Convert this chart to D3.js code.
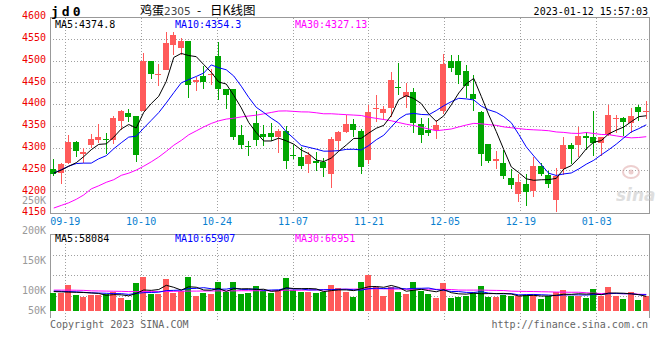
<!DOCTYPE html>
<html><head><meta charset="utf-8">
<script src="https://cdn.jsdelivr.net/npm/d3@7"></script>
<style>
body{margin:0;background:#fff;}
svg{display:block;}
text{font-family:"DejaVu Sans Mono",monospace;font-size:10px;}
</style></head><body>
<svg id="c" width="660" height="360"></svg>
<script>
// ---------------- data ----------------
const dates = ["09-15","09-16","09-19","09-20","09-21","09-22","09-23","09-26","09-27","09-28","09-29","09-30",
"10-10","10-11","10-12","10-13","10-14","10-17","10-18","10-19","10-20","10-21","10-24","10-25","10-26","10-27","10-28","10-31",
"11-01","11-02","11-03","11-04","11-07","11-08","11-09","11-10","11-11","11-14","11-15","11-16","11-17","11-18","11-21","11-22","11-23","11-24","11-25","11-28","11-29","11-30",
"12-01","12-02","12-05","12-06","12-07","12-08","12-09","12-12","12-13","12-14","12-15","12-16","12-19","12-20","12-21","12-22","12-23","12-26","12-27","12-28","12-29","12-30",
"01-03","01-04","01-05","01-06","01-09","01-10","01-11","01-12"];
const open  = [4252,4244,4267,4314,4288,4308,4320,4322,4320,4363,4381,4374,4386,4500,4467,4480,4537,4529,4546,4451,4466,4469,4512,4435,4437,4330,4305,4358,4333,4335,
4327,4340,4285,4280,4265,4270,4269,4240,4317,4337,4356,4340,4274,4389,4382,4393,4441,4418,4429,4356,4343,4343,4386,4500,4500,4477,4425,4383,4310,4270,
4266,4232,4196,4219,4202,4259,4238,4181,4253,4307,4308,4328,4327,4313,4330,4367,4370,4359,4394,4385];
const high  = [4276,4267,4330,4316,4301,4333,4356,4335,4374,4387,4389,4375,4519,4500,4494,4567,4567,4553,4547,4464,4489,4483,4544,4436,4437,4353,4316,4385,4354,4357,
4345,4350,4307,4303,4292,4292,4278,4325,4340,4376,4367,4344,4399,4422,4397,4474,4496,4450,4438,4370,4370,4366,4516,4515,4513,4492,4467,4386,4311,4294,
4297,4253,4240,4240,4280,4267,4247,4255,4325,4312,4349,4337,4386,4326,4399,4376,4372,4392,4399,4408];
const low   = [4237,4219,4265,4279,4266,4301,4313,4288,4309,4343,4360,4269,4385,4460,4443,4480,4513,4513,4415,4431,4435,4446,4410,4389,4320,4298,4282,4306,4306,4316,
4290,4253,4275,4253,4243,4247,4234,4210,4294,4336,4327,4240,4265,4360,4364,4372,4423,4392,4336,4313,4328,4322,4379,4474,4448,4415,4385,4259,4267,4253,
4230,4207,4177,4167,4188,4237,4209,4155,4238,4263,4280,4295,4282,4282,4328,4334,4328,4336,4363,4368];
const close = [4242,4264,4314,4293,4292,4321,4325,4320,4370,4386,4372,4285,4500,4470,4470,4542,4560,4546,4446,4457,4451,4471,4435,4423,4327,4308,4302,4320,4327,4327,
4340,4272,4282,4259,4285,4267,4255,4322,4337,4356,4343,4256,4383,4392,4389,4456,4438,4429,4359,4331,4336,4353,4493,4485,4467,4442,4414,4288,4272,4276,
4236,4215,4223,4200,4259,4242,4217,4237,4307,4298,4328,4324,4313,4325,4376,4370,4360,4374,4383,4386];
const volume = [73500,73500,104800,63900,55800,63900,63900,66700,77500,51700,
43500,112900,137400,69400,69400,129200,72100,80300,137400,59900,
72100,69400,117000,74800,117000,68000,72100,100700,80300,73500,
80300,133300,84400,77500,77500,72100,77500,104800,92500,77500,
57100,117000,145600,96600,61200,95200,76200,68000,117000,80300,
68000,53100,112900,53100,57100,61200,73500,100700,57100,57100,
63900,61200,61200,63900,63900,49000,61200,77500,84400,61200,
61200,53100,88400,61200,96600,61200,49000,76200,44900,61200];
const ma5Lead  = [4243,4250,4259,4267];
const ma10Lead = [4243,4251,4259,4265,4266,4266,4276,4283,4299];
const ma30Lead = [4163,4169,4175,4183,4193,4207,4214,4222,4228,4238,4243,4250,4259,4269,4280,4293,4307,4318,4331,4340,4349,4357,4363,4367,4369,4372,4374,4376,4379];
const vma5Lead  = [78000,77000,76000,75000];
const vma10Lead = [80000,79000,78000,77000,75000,73000,72000,71000,70000];
const vma30Lead = [84000,84000,84000,83500,83000,81000,80500,80000,79500,79000,78000,78000,78000,78000,78000,78500,79000,79500,80000,80000,80500,80500,81000,81000,81000,81500,81500,81500,81500];
const maLegend = ["4374.8","4354.3","4327.13"];
const volMaLegend = ["58084","65907","66951"];
const xTicks = ["09-19","10-10","10-24","11-07","11-21","12-05","12-19","01-03"];
const priceTicks = [4600,4550,4500,4450,4400,4350,4300,4250,4200,4150];
const volTicks = [250000,200000,150000,100000,50000];
const volTickLabels = ["250K","200K","150K","100K","50K"];

// ---------------- helpers ----------------
function movAvg(arr, n, lead){
  return arr.map((_, i) => i < n - 1 ? lead[i] : d3.mean(arr.slice(i - n + 1, i + 1)));
}
const ma5 = movAvg(close, 5, ma5Lead), ma10 = movAvg(close, 10, ma10Lead), ma30 = movAvg(close, 30, ma30Lead);
const vma5 = movAvg(volume, 5, vma5Lead), vma10 = movAvg(volume, 10, vma10Lead), vma30 = movAvg(volume, 30, vma30Lead);

const RED = "#ff5a5a", GREEN = "#00a600", GRID = "#a0a0a0", FRAME = "#999";
const L = 50, R = 650;
const svg = d3.select("#c");

const xb = d3.scaleBand().domain(dates).range([L, R]).padding(0);
const xp = d3.scalePoint().domain(dates).range([L, R]).padding(0);
const y = d3.scaleLinear().domain([4150, 4600]).range([213.7, 17.5]);
const vTop = 234.5, vBot = 318;
const vy = d3.scaleLinear().domain([0, 100000]).range([310.7, 286.2]);
const vLabelY = d3.scaleLinear().domain([100000, 250000]).range([290.7, 200.7]);
const vGrid = d3.scaleLinear().domain([0, 4]).range([vTop, 317]);

const cx = d => Math.floor(xb(d) + xb.bandwidth() / 2 - 3);
const px = v => Math.floor(v) + 0.5;

// ---------------- grid & frame ----------------
const g = svg.append("g").attr("shape-rendering", "crispEdges");
// main horizontal grid
g.selectAll(".hg").data(priceTicks.slice(1, -1)).enter().append("line")
  .attr("x1", L).attr("x2", R).attr("y1", d => px(y(d))).attr("y2", d => px(y(d)))
  .attr("stroke", GRID).attr("stroke-dasharray", "1,2");
// main vertical grid
g.selectAll(".vg").data(xTicks).enter().append("line")
  .attr("x1", d => px(xp(d))).attr("x2", d => px(xp(d)))
  .attr("y1", y(4600)).attr("y2", y(4150))
  .attr("stroke", GRID).attr("stroke-dasharray", "1,2");
// main frame
g.append("line").attr("x1", L).attr("x2", R).attr("y1", px(y(4600))).attr("y2", px(y(4600))).attr("stroke", FRAME);
g.append("line").attr("x1", L).attr("x2", R).attr("y1", px(y(4150))).attr("y2", px(y(4150))).attr("stroke", FRAME).attr("stroke-width", 1.5);
g.append("line").attr("x1", L + 0.5).attr("x2", L + 0.5).attr("y1", y(4600)).attr("y2", y(4150)).attr("stroke", FRAME);
g.append("line").attr("x1", R - 0.5).attr("x2", R - 0.5).attr("y1", y(4600)).attr("y2", y(4150)).attr("stroke", FRAME);

// volume grid
g.selectAll(".vhg").data([1, 2, 3]).enter().append("line")
  .attr("x1", L).attr("x2", R).attr("y1", d => px(vGrid(d))).attr("y2", d => px(vGrid(d)))
  .attr("stroke", GRID).attr("stroke-dasharray", "1,2");
g.selectAll(".vvg").data(xTicks).enter().append("line")
  .attr("x1", d => px(xp(d))).attr("x2", d => px(xp(d)))
  .attr("y1", vTop).attr("y2", vBot + 2)
  .attr("stroke", GRID).attr("stroke-dasharray", "1,2");
g.append("line").attr("x1", L).attr("x2", R).attr("y1", vTop).attr("y2", vTop).attr("stroke", FRAME);
g.append("line").attr("x1", L + 0.5).attr("x2", L + 0.5).attr("y1", vTop).attr("y2", vBot).attr("stroke", FRAME);
g.append("line").attr("x1", R - 0.5).attr("x2", R - 0.5).attr("y1", vTop).attr("y2", vBot).attr("stroke", FRAME);

// ---------------- watermark ----------------
const wm = svg.append("g").attr("opacity", 0.55);
wm.append("ellipse").attr("cx", 631).attr("cy", 172).attr("rx", 8).attr("ry", 6)
  .attr("fill", "none").attr("stroke", "#e0a8a8").attr("stroke-width", 2);
wm.append("circle").attr("cx", 631).attr("cy", 172).attr("r", 2.5).attr("fill", "#e0a8a8");
wm.append("text").attr("x", 616).attr("y", 201).text("sina")
  .style("font-family", "'DejaVu Sans',sans-serif").style("font-size", "17px")
  .style("font-style", "italic").style("font-weight", "bold").attr("fill", "#c4c4c4");

// ---------------- candles ----------------
const idx = d3.range(dates.length);
const isUp = i => close[i] >= open[i];
const cg = svg.append("g").attr("shape-rendering", "crispEdges");
cg.selectAll(".wick").data(idx).enter().append("line")
  .attr("x1", i => cx(dates[i]) + 3.5).attr("x2", i => cx(dates[i]) + 3.5)
  .attr("y1", i => Math.round(y(high[i]))).attr("y2", i => Math.round(y(low[i])))
  .attr("stroke", i => isUp(i) ? RED : GREEN);
cg.selectAll(".body").data(idx).enter().append("rect")
  .attr("x", i => cx(dates[i])).attr("width", 6)
  .attr("y", i => Math.round(y(Math.max(open[i], close[i]))))
  .attr("height", i => Math.max(1, Math.round(y(Math.min(open[i], close[i]))) - Math.round(y(Math.max(open[i], close[i])))))
  .attr("fill", i => isUp(i) ? RED : GREEN);

// MA lines
const lineP = arr => d3.line().x((_, i) => xb(dates[i]) + xb.bandwidth() / 2).y(v => y(v))(arr);
[[ma30, "#ff00ff"], [ma10, "#0000ff"], [ma5, "#000"]].forEach(([a, c]) =>
  svg.append("path").attr("d", lineP(a)).attr("fill", "none").attr("stroke", c).attr("stroke-width", 1));

// ---------------- volume ----------------
svg.append("g").attr("shape-rendering", "crispEdges").selectAll("rect").data(idx).enter().append("rect")
  .attr("x", i => cx(dates[i])).attr("width", 6)
  .attr("y", i => Math.round(vy(volume[i])))
  .attr("height", i => Math.round(vy(0)) - Math.round(vy(volume[i])))
  .attr("fill", i => isUp(i) ? RED : GREEN);
const lineV = arr => d3.line().x((_, i) => xb(dates[i]) + xb.bandwidth() / 2).y(v => vy(v))(arr);
[[vma30, "#ff00ff"], [vma10, "#0000ff"], [vma5, "#000"]].forEach(([a, c]) =>
  svg.append("path").attr("d", lineV(a)).attr("fill", "none").attr("stroke", c).attr("stroke-width", 1));

// ---------------- text ----------------
svg.selectAll(".pl").data(priceTicks).enter().append("text")
  .attr("x", 46).attr("y", d => y(d) + 1.6).attr("text-anchor", "end").attr("fill", "#ee0000").text(d => d);
svg.selectAll(".vl").data(volTicks).enter().append("text")
  .attr("x", 46).attr("y", d => Math.min(vLabelY(d), 310) + 3.6).attr("text-anchor", "end")
  .attr("fill", "#999").text((d, i) => volTickLabels[i]);
svg.selectAll(".xl").data(xTicks).enter().append("text")
  .attr("x", d => xp(d)).attr("y", 225.3).attr("text-anchor", "middle").attr("fill", "#0a7fd0").text(d => d);

const legendX = [55, 175, 295], legendC = ["#000", "#0000ff", "#ff00ff"], legendN = ["MA5:", "MA10:", "MA30:"];
legendN.forEach((n, i) => {
  svg.append("text").attr("x", legendX[i]).attr("y", 27.6).attr("fill", legendC[i]).text(n + maLegend[i]);
  svg.append("text").attr("x", legendX[i]).attr("y", 242).attr("fill", legendC[i]).text(n + volMaLegend[i]);
});

svg.append("text").attr("x", 51).attr("y", 16).style("font-size", "13px").style("font-weight", "bold")
  .style("letter-spacing", "3px").style("font-family", "'DejaVu Sans Mono',monospace").text("jd0");
const cjk = "'Noto Sans CJK SC',sans-serif";
svg.append("text").attr("x", 140).attr("y", 15).style("font-family", cjk).style("font-size", "12px").text("鸡蛋");
svg.append("text").attr("x", 164).attr("y", 15).style("font-family", "'DejaVu Sans',sans-serif").style("font-size", "10.5px").attr("fill", "#444").text("2305");
svg.append("text").attr("x", 197).attr("y", 15).style("font-family", cjk).style("font-size", "12px").text("-");
svg.append("text").attr("x", 210).attr("y", 15).style("font-family", cjk).style("font-size", "12.5px").text("日K线图");
svg.append("text").attr("x", 648).attr("y", 15.3).attr("text-anchor", "end").attr("fill", "#000").text("2023-01-12 15:57:03");

svg.append("text").attr("x", 50).attr("y", 327.5).attr("fill", "#666").text("Copyright 2023 SINA.COM");
svg.append("text").attr("x", 648).attr("y", 327.5).attr("text-anchor", "end").attr("fill", "#666").text("http://finance.sina.com.cn");
</script>
</body></html>
